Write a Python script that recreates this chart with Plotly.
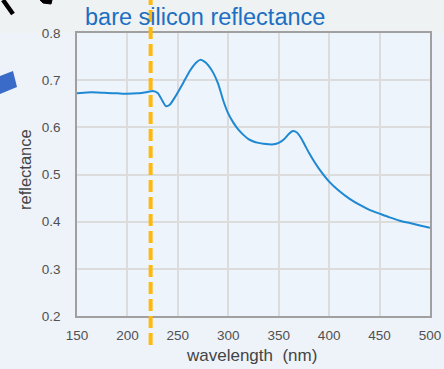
import plotly.graph_objects as go

wavelength = [150,160,170,180,190,200,210,220,225,230,235,238,242,248,255,262,268,272,276,280,
              285,290,295,300,305,310,315,320,325,330,335,340,345,350,355,360,364,368,372,376,
              380,385,390,400,410,420,430,440,450,460,470,480,490,500]
reflectance = [0.672,0.674,0.674,0.673,0.672,0.671,0.672,0.675,0.677,0.673,0.655,0.645,0.648,0.667,0.693,0.720,0.737,0.743,0.740,0.732,
               0.716,0.692,0.657,0.629,0.610,0.595,0.584,0.575,0.570,0.567,0.565,0.564,0.564,0.567,0.574,0.586,0.592,0.589,0.578,0.562,
               0.546,0.528,0.512,0.485,0.465,0.449,0.436,0.425,0.417,0.409,0.402,0.397,0.392,0.387]
marker_wavelength = 223
x_ticks = [150,200,250,300,350,400,450,500]
y_ticks = [0.2,0.3,0.4,0.5,0.6,0.7,0.8]

W, H = 444, 369
L, R, T, B = 77, 430, 33, 316

def px(x):
    return (x - L) / (R - L)

def py(y):
    return (B - y) / (B - T)

fig = go.Figure()
fig.add_trace(go.Scatter(x=wavelength, y=reflectance, mode="lines",
                         line=dict(color="#1E88D2", width=2, shape="spline", smoothing=0.6),
                         hoverinfo="skip", showlegend=False))

shapes = [
    dict(type="rect", xref="paper", yref="paper", x0=px(0), x1=px(W), y0=py(T), y1=py(0),
         fillcolor="#EEF2F3", line=dict(width=0), layer="below"),
    dict(type="line", xref="x", yref="paper", x0=marker_wavelength, x1=marker_wavelength,
         y0=py(345), y1=py(0), line=dict(color="#FFB80C", width=4, dash="12px,5px"), layer="above"),
    dict(type="line", xref="paper", yref="paper", x0=px(3), y0=py(0), x1=px(13), y1=py(14),
         line=dict(color="black", width=4.5)),
    dict(type="path", xref="paper", yref="paper",
         path=f"M {px(40)} {py(0)} L {px(52)} {py(0)} L {px(51)} {py(4)} L {px(43)} {py(3)} Z",
         fillcolor="black", line=dict(color="black", width=1)),
    dict(type="path", xref="paper", yref="paper",
         path=f"M {px(0)} {py(76)} L {px(13)} {py(71)} L {px(17)} {py(87)} L {px(0)} {py(94)} Z",
         fillcolor="#3A6BC8", line=dict(width=0)),
]

annotations = [
    dict(text="bare silicon reflectance", xref="paper", yref="paper", x=px(83), y=py(17),
         xanchor="left", yanchor="middle", showarrow=False,
         font=dict(family="Liberation Sans, Arial", size=23.5, color="#1C6FC2")),
    dict(text="wavelength\u00a0 (nm)", xref="paper", yref="paper", x=px(251), y=py(355),
         xanchor="center", yanchor="middle", showarrow=False,
         font=dict(family="Liberation Sans, Arial", size=17, color="#444444")),
    dict(text="reflectance", xref="paper", yref="paper", x=px(25), y=py(170),
         xanchor="center", yanchor="middle", showarrow=False, textangle=-90,
         font=dict(family="Liberation Sans, Arial", size=16.5, color="#444444")),
]

fig.update_layout(
    width=W, height=H,
    margin=dict(l=L, r=W - R, t=T, b=H - B, pad=0, autoexpand=False),
    paper_bgcolor="#EEF3FA", plot_bgcolor="#EEF4FC",
    shapes=shapes, annotations=annotations,
    font=dict(family="Liberation Sans, Arial", size=13.5, color="#505050"),
)
fig.update_xaxes(range=[150, 500], tickvals=x_ticks, ticktext=[str(v) for v in x_ticks],
                 showgrid=True, gridcolor="#DCDCDC", gridwidth=1.5, automargin=False,
                 showline=True, linecolor="#A0A0A0", linewidth=1.5, mirror=True,
                 ticks="", ticklabelstandoff=6, zeroline=False)
fig.update_yaxes(range=[0.2, 0.8], tickvals=y_ticks, ticktext=[f"{v:.1f}" for v in y_ticks],
                 showgrid=True, gridcolor="#DCDCDC", gridwidth=1.5, automargin=False,
                 showline=True, linecolor="#A0A0A0", linewidth=1.5, mirror=True,
                 ticks="", ticklabelstandoff=12, zeroline=False)

fig.write_html("out.html")
